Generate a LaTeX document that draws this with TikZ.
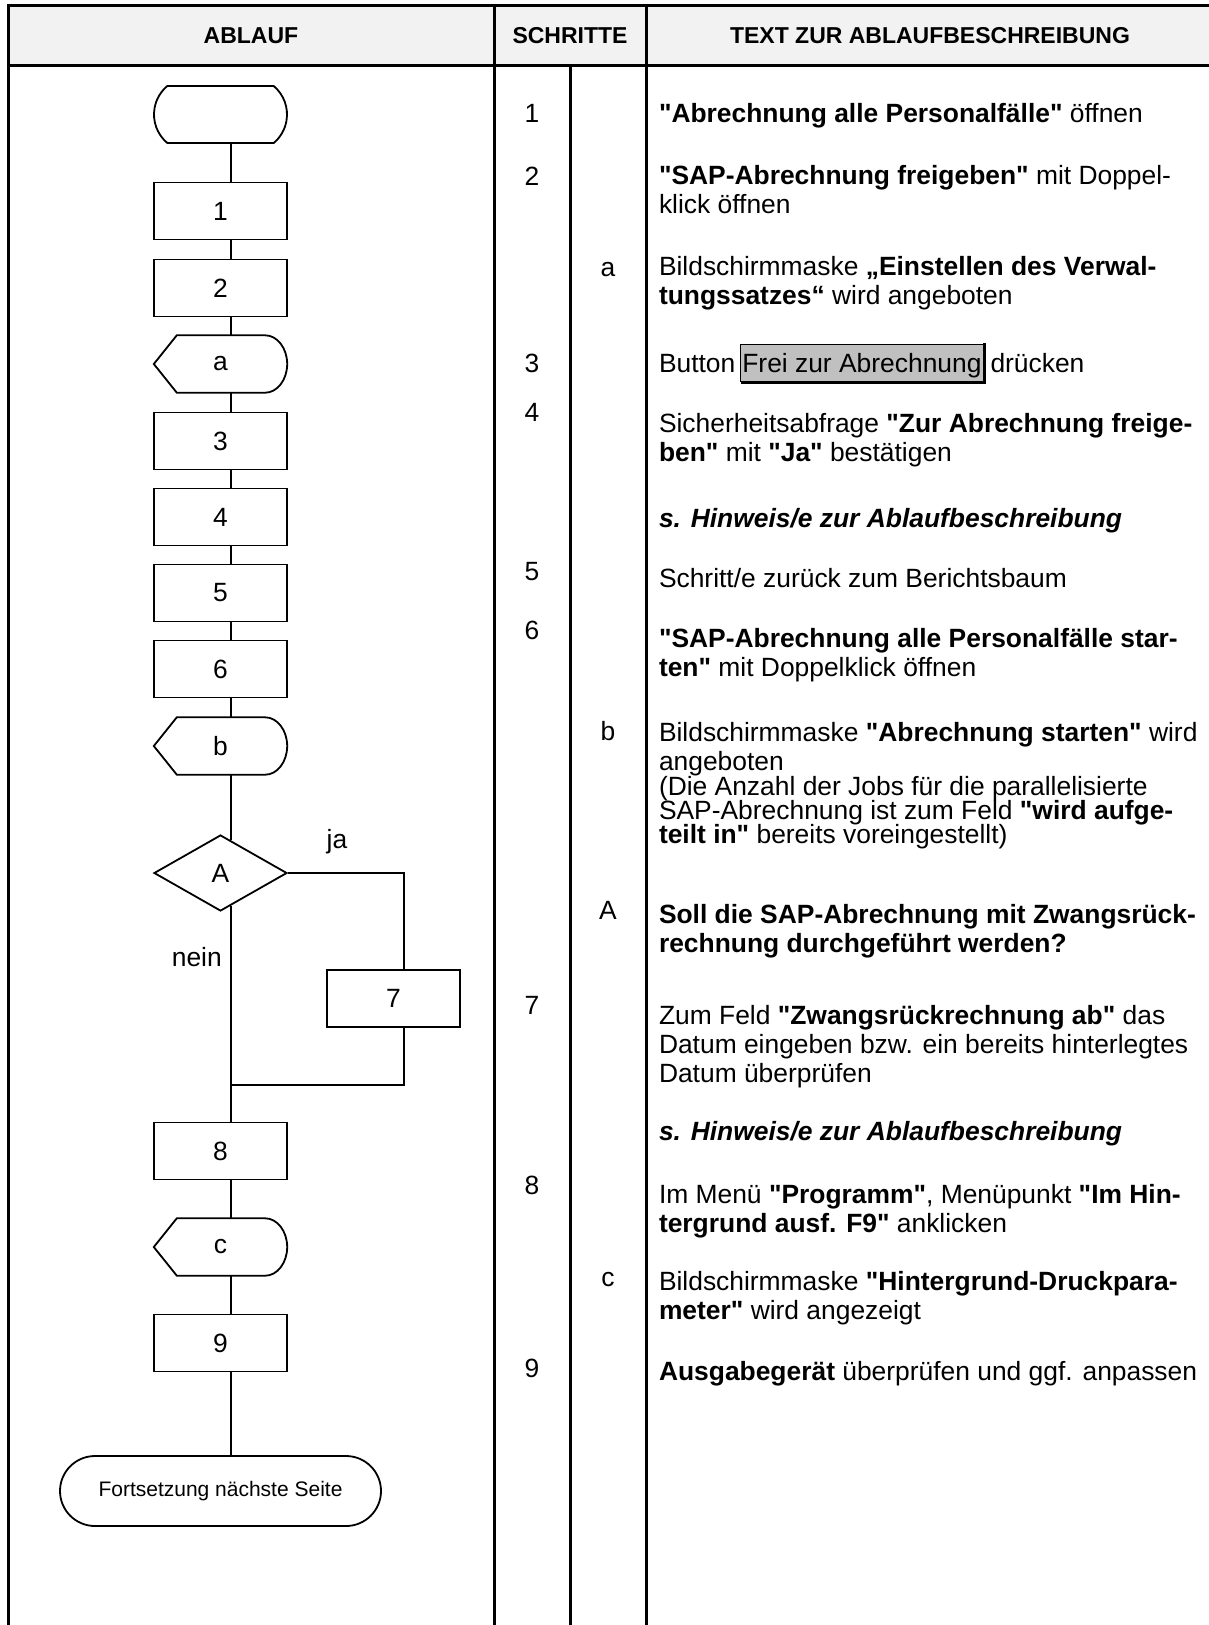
\documentclass[tikz,border=0pt]{standalone}
\usepackage{fontspec}
\setmainfont{Liberation Sans}[Ligatures=TeXOff]
\usetikzlibrary{positioning,shapes.geometric,shapes.misc}

\definecolor{kopfgrau}{HTML}{F2F2F2}
\definecolor{knopfgrau}{HTML}{C0C0C0}
\newcommand{\beschrfont}{\fontsize{26.4pt}{29pt}\selectfont}
% Anzeige-Symbol (Spitze links, rund rechts) um einen Knoten
\newcommand{\dispout}[1]{%
  \draw[flowline] (#1.west) -- ([xshift=23pt]#1.north west)
    -- ([xshift=-22pt]#1.north east)
    .. controls ([xshift=-9.9pt]#1.north east) and ([yshift=15.7pt]#1.east) .. (#1.east)
    .. controls ([yshift=-15.7pt]#1.east) and ([xshift=-9.9pt]#1.south east) .. ([xshift=-22pt]#1.south east)
    -- ([xshift=23pt]#1.south west) -- cycle;}

\begin{document}
\begin{tikzpicture}[x=1pt, y=-1pt,
    tbl/.style={line width=3pt},
    flowline/.style={line width=1.8pt},
    hdr/.style={font=\bfseries\fontsize{23pt}{27pt}\selectfont, text height=16.5pt, text depth=0pt, inner sep=0pt},
    num/.style={font=\beschrfont, text height=18.9pt, text depth=0pt, inner sep=0pt},
    txt/.style={anchor=north west, inner sep=0pt, outer sep=0pt, align=left, font=\beschrfont, execute at begin node=\strut},
    box/.style={draw, line width=1.8pt, minimum width=133pt, minimum height=57pt, inner sep=0pt, font=\beschrfont},
    disp/.style={minimum width=133pt, minimum height=57pt, inner sep=0pt, font=\beschrfont},
    term/.style={draw, rounded rectangle, rounded rectangle arc length=100, line width=1.8pt, minimum width=133pt, minimum height=57pt, inner sep=0pt},
    decide/.style={draw, diamond, aspect=1.75, line width=1.8pt, minimum width=133pt, minimum height=76pt, inner sep=0pt, font=\beschrfont},
    btn/.style={fill=knopfgrau, draw, line width=1pt, inner xsep=2pt, inner ysep=4pt, text height=24pt, text depth=5.5pt, outer sep=0pt, font=\beschrfont},
  ]
    \useasboundingbox (0,0) rectangle (1209,1625);

    % Tabelle -----------------------------------------------------
    \fill[kopfgrau] (8,5) rectangle (1215,65);
    \draw[tbl] (1215,5) -- (8,5) -- (8,1630);
    \draw[tbl] (8,65) -- (1215,65);
    \draw[tbl] (494,5) -- (494,1630);
    \draw[tbl] (646,5) -- (646,1630);
    \draw[tbl] (570,65) -- (570,1630);
    \node[hdr] (hAblauf) at (251,35) {ABLAUF};
    \node[hdr] (hSchritte) at (570,35) {SCHRITTE};
    \node[hdr] (hText) at (930,35) {TEXT ZUR ABLAUFBESCHREIBUNG};

    % Ablauf ------------------------------------------------------
    \node[term] (start) at (220.5,114.5) {};
    \node[box] (n1) at (220.5,211) {1};
    \node[box] (n2) at (220.5,288) {2};
    \node[disp] (sa) at (220.5,364) {a}; \dispout{sa}
    \node[box] (n3) at (220.5,441) {3};
    \node[box] (n4) at (220.5,517) {4};
    \node[box] (n5) at (220.5,593) {5};
    \node[box] (n6) at (220.5,669) {6};
    \node[disp] (sb) at (220.5,746) {b}; \dispout{sb}
    \node[decide] (dA) at (220.5,873) {A};
    \node[box] (n7) at (393.5,998.5) {7};
    \coordinate (join) at (231,1085);
    \node[box] (n8) at (220.5,1151) {8};
    \node[disp] (sc) at (220.5,1247) {c}; \dispout{sc}
    \node[box] (n9) at (220.5,1343) {9};
    \node[term, rounded rectangle arc length=180, minimum width=321pt, minimum height=70pt,
          font=\fontsize{21pt}{25pt}\selectfont] (ende) at (220.5,1491) {Fortsetzung nächste Seite};

    \foreach \a/\b in {start/n1, n1/n2, n2/sa, sa/n3, n3/n4, n4/n5, n5/n6, n6/sb, n8/sc, sc/n9, n9/ende}
        \draw[flowline] ([xshift=10.5pt]\a.south) -- ([xshift=10.5pt]\b.north);
    \draw[flowline] ([xshift=10.5pt]sb.south) -- ([xshift=10.5pt,yshift=-6pt]dA.north);
    \draw[flowline] ([xshift=10.5pt,yshift=6pt]dA.south) -- ([xshift=10.5pt]n8.north);
    \draw[flowline] (dA.east) -| ([xshift=10.5pt]n7.north);
    \draw[flowline] ([xshift=10.5pt]n7.south) |- (join);
    \node[font=\beschrfont, inner sep=0pt] (ja) at (337,842) {ja};
    \node[font=\beschrfont, inner sep=0pt, anchor=east] (nein) at (222,957) {nein};

    % Schritte ----------------------------------------------------
    \node[num] (s1) at (532,113) {1};
    \node[num] (s2) at (532,176) {2};
    \node[num] (sta) at (608,267) {a};
    \node[num] (s3) at (532,363) {3};
    \node[num] (s4) at (532,412) {4};
    \node[num] (s5) at (532,571) {5};
    \node[num] (s6) at (532,630) {6};
    \node[num] (stb) at (608,731) {b};
    \node[num] (stA) at (608,910) {A};
    \node[num] (s7) at (532,1005) {7};
    \node[num] (s8) at (532,1185) {8};
    \node[num] (stc) at (608,1277) {c};
    \node[num] (s9) at (532,1368) {9};

    % Text zur Ablaufbeschreibung ---------------------------------
    \node[txt] (t1) at (659,102) {\textbf{"Abrechnung alle Personalfälle"} öffnen};
    \node[txt] (t2) at (659,165.5) {\textbf{"SAP-Abrechnung freigeben"} mit Doppel-\\klick öffnen};
    \node[txt] (ta) at (659,256.5) {Bildschirmmaske \textbf{„Einstellen des Verwal-}\\\textbf{tungssatzes“} wird angeboten};
    \node[txt] (t3) at (659,352) {Button};
    \node[btn, base right=5pt of t3] (frei) {Frei zur Abrechnung};
    \draw[line width=2.5pt] ([xshift=1pt,yshift=1pt]frei.north east) -- ([xshift=1pt,yshift=-1pt]frei.south east)
        -- ([xshift=1pt,yshift=-1pt]frei.south west);
    \node[txt, base right=7pt of frei] (t3b) {drücken};
    \node[txt] (t4) at (659,413.5) {Sicherheitsabfrage \textbf{"Zur Abrechnung freige-}\\\textbf{ben"} mit \textbf{"Ja"} bestätigen};
    \node[txt] (h1) at (659,507) {\textbf{\textit{s. Hinweis/e zur Ablaufbeschreibung}}};
    \node[txt] (t5) at (659,567) {Schritt/e zurück zum Berichtsbaum};
    \node[txt] (t6) at (659,628.5) {\textbf{"SAP-Abrechnung alle Personalfälle star-}\\\textbf{ten"} mit Doppelklick öffnen};
    \node[txt] (tb) at (659,722.5) {Bildschirmmaske \textbf{"Abrechnung starten"} wird\\angeboten\\[-4pt]
        (Die Anzahl der Jobs für die parallelisierte\\[-5pt]SAP-Abrechnung ist zum Feld \textbf{"wird aufge-}\\[-5pt]
        \textbf{teilt in"} bereits voreingestellt)};
    \node[txt] (tA) at (659,904) {\textbf{Soll die SAP-Abrechnung mit Zwangsrück-}\\\textbf{rechnung durchgeführt werden?}};
    \node[txt] (t7) at (659,1005) {Zum Feld \textbf{"Zwangsrückrechnung ab"} das\\Datum eingeben bzw. ein bereits hinterlegtes\\Datum überprüfen};
    \node[txt] (h2) at (659,1120.5) {\textbf{\textit{s. Hinweis/e zur Ablaufbeschreibung}}};
    \node[txt] (t8) at (659,1184) {Im Menü \textbf{"Programm"}, Menüpunkt \textbf{"Im Hin-}\\\textbf{tergrund ausf. F9"} anklicken};
    \node[txt] (tc) at (659,1271) {Bildschirmmaske \textbf{"Hintergrund-Druckpara-}\\\textbf{meter"} wird angezeigt};
    \node[txt] (t9) at (659,1360.5) {\textbf{Ausgabegerät} überprüfen und ggf. anpassen};
\end{tikzpicture}
\end{document}
